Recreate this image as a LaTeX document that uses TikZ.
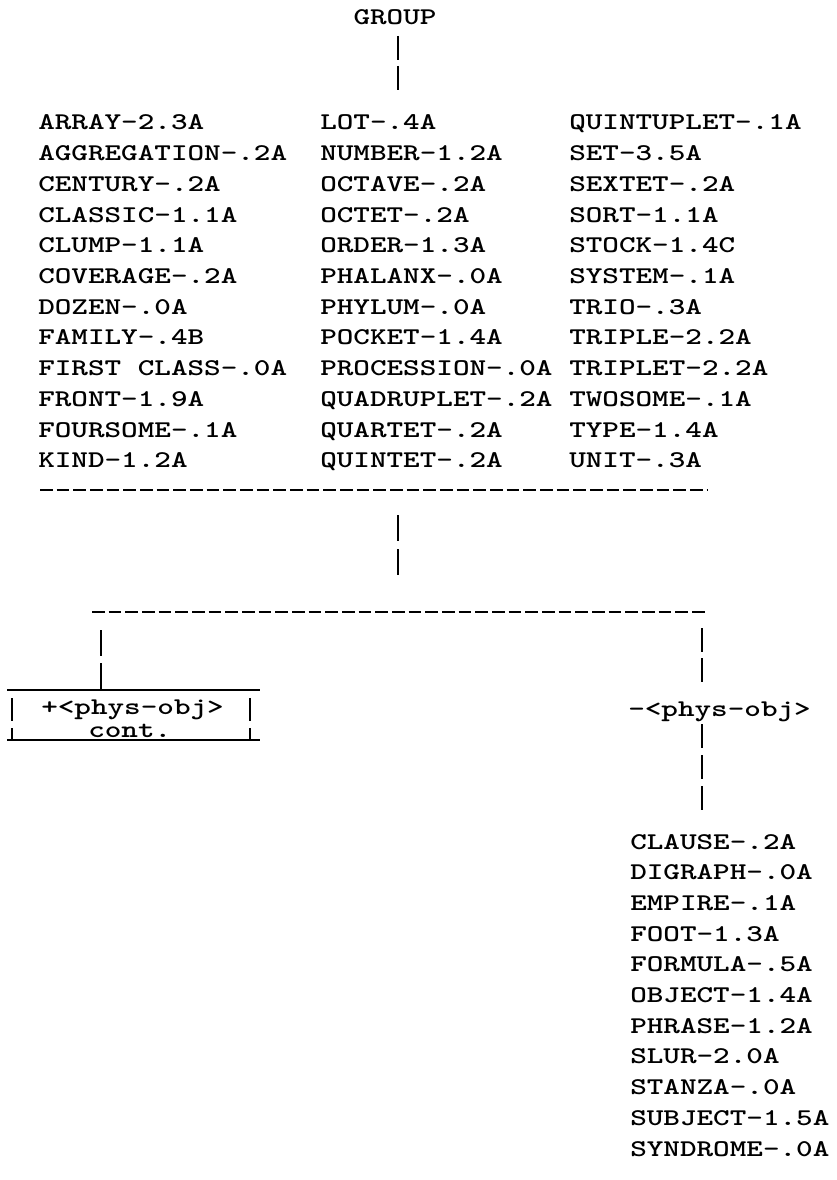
\documentclass[tikz,border=0pt]{standalone}
\usepackage{graphicx}
\newcommand{\tw}{\fontsize{18}{23.03}\selectfont\ttfamily\bfseries}
\newcommand{\tws}[1]{\scalebox{1.317}[1]{\tw #1}}
\tikzset{
  txt/.style={inner sep=0pt, anchor=base west},
  typebar/.style={line width=1.6pt},
  dashrule/.style={line width=1.8pt, dash pattern=on 9.5pt off 3pt},
  boxline/.style={line width=1.6pt},
}
\begin{document}
\begin{tikzpicture}[x=0.75pt,y=-0.75pt]
\fill[white] (0,0) rectangle (836,1180);
\useasboundingbox (0,0) rectangle (836,1180);

% top label
\node[inner sep=0pt, anchor=base] (group) at (395,25) {\tws{GROUP}};

% three columns
\node[txt] (col1) at (38,130) {\tws{\begin{tabular}[t]{@{}l@{}}
ARRAY-2.3A\\ AGGREGATION-.2A\\ CENTURY-.2A\\ CLASSIC-1.1A\\ CLUMP-1.1A\\
COVERAGE-.2A\\ DOZEN-.0A\\ FAMILY-.4B\\ FIRST CLASS-.0A\\ FRONT-1.9A\\
FOURSOME-.1A\\ KIND-1.2A\end{tabular}}};
\node[txt] (col2) at (320,130) {\tws{\begin{tabular}[t]{@{}l@{}}
LOT-.4A\\ NUMBER-1.2A\\ OCTAVE-.2A\\ OCTET-.2A\\ ORDER-1.3A\\
PHALANX-.0A\\ PHYLUM-.0A\\ POCKET-1.4A\\ PROCESSION-.0A\\ QUADRUPLET-.2A\\
QUARTET-.2A\\ QUINTET-.2A\end{tabular}}};
\node[txt] (col3) at (569,130) {\tws{\begin{tabular}[t]{@{}l@{}}
QUINTUPLET-.1A\\ SET-3.5A\\ SEXTET-.2A\\ SORT-1.1A\\ STOCK-1.4C\\
SYSTEM-.1A\\ TRIO-.3A\\ TRIPLE-2.2A\\ TRIPLET-2.2A\\ TWOSOME-.1A\\
TYPE-1.4A\\ UNIT-.3A\end{tabular}}};

% connector GROUP -> list
\coordinate (gtop) at (398,36);
\coordinate (gbot) at (398,92);
\draw[typebar, dash pattern=on 18pt off 4.5pt] (gtop) -- (gbot);

% first dashed rule
\coordinate (r1a) at (40,490);
\coordinate (r1b) at (707,490);
\draw[dashrule] (r1a) -- (r1b);

% connector between rules
\coordinate (mtop) at (398,515);
\coordinate (mbot) at (398,575);
\draw[typebar, dash pattern=on 19.5pt off 6pt] (mtop) -- (mbot);

% second dashed rule
\coordinate (r2a) at (92,612);
\coordinate (r2b) at (707,612);
\draw[dashrule] (r2a) -- (r2b);

% left branch
\coordinate (ltop) at (101,630);
\coordinate (lbot) at (101,690);
\draw[typebar, dash pattern=on 19.5pt off 5.25pt] (ltop) -- (lbot);

% boxed node
\draw[boxline] (7,690) -- (260,690);
\draw[boxline] (7,740) -- (260,740);
\draw[typebar] (12,698) -- (12,721);
\draw[typebar] (12,728) -- (12,740);
\draw[typebar] (250,698) -- (250,721);
\draw[typebar] (250,728) -- (250,740);
\node[txt] (plus) at (41,714) {\tws{+<phys-obj>}};
\node[txt] (cont) at (88,737) {\tws{cont.}};

% right branch
\coordinate (rtop) at (702,628);
\coordinate (rbot) at (702,682);
\draw[typebar, dash pattern=on 18pt off 4.5pt] (rtop) -- (rbot);
\node[txt] (minus) at (628,716) {\tws{-<phys-obj>}};
\coordinate (r3top) at (702,724);
\coordinate (r3bot) at (702,810);
\draw[typebar, dash pattern=on 18pt off 5.25pt] (r3top) -- (r3bot);

% right list
\node[txt] (col4) at (630,849) {\tws{\begin{tabular}[t]{@{}l@{}}
CLAUSE-.2A\\ DIGRAPH-.0A\\ EMPIRE-.1A\\ FOOT-1.3A\\ FORMULA-.5A\\
OBJECT-1.4A\\ PHRASE-1.2A\\ SLUR-2.0A\\ STANZA-.0A\\ SUBJECT-1.5A\\
SYNDROME-.0A\end{tabular}}};
\end{tikzpicture}
\end{document}
